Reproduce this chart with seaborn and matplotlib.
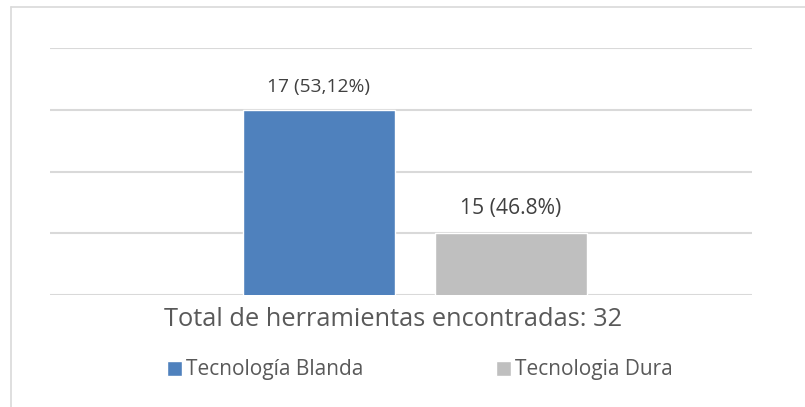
import pandas as pd
import matplotlib
matplotlib.use("Agg")
import matplotlib.pyplot as plt
import seaborn as sns
from matplotlib.lines import Line2D

# Data
category = "Total de herramientas encontradas: 32"
series = ["Tecnología Blanda", "Tecnologia Dura"]
counts = [17, 15]
bar_texts = ["17 (53,12%)", "15 (46.8%)"]
colors = ["#4F81BD", "#BFBFBF"]

df = pd.DataFrame({"categoria": [category] * len(series), "tipo": series, "total": counts})

sns.set_style("white")
plt.rcParams["font.family"] = ["Open Sans", "DejaVu Sans"]

fig = plt.figure(figsize=(8.05, 4.07), dpi=100)
W, H = 805, 407
ax = fig.add_axes([50 / W, 1 - 295 / H, (752 - 50) / W, (295 - 48) / H])

sns.barplot(data=df, x="categoria", y="total", hue="tipo", palette=colors,
            width=0.8, gap=0.21, ax=ax, saturation=1)

# truncated value axis like the original (14 to 18, one grid line per unit)
ax.set_ylim(14, 18)
ax.set_yticks([14, 15, 16, 17, 18])
ax.yaxis.grid(True, color="#D9D9D9", linewidth=1.5)
ax.set_axisbelow(True)
ax.tick_params(left=False, bottom=False, labelleft=False, labelbottom=False)
for s in ax.spines.values():
    s.set_visible(False)
ax.set_ylabel("")

# x range chosen so the bar pair sits where it does in the picture
ax.set_xlim(-0.76, 0.7025)

for cont, txt, fs in zip(ax.containers, bar_texts, [13.8, 15.2]):
    ax.bar_label(cont, labels=[txt], padding=10, fontsize=fs, color="#404040")

ax.set_xlabel(category, fontsize=18.3, color="#595959")
ax.xaxis.set_label_coords((393 - 50) / (752 - 50), -0.05, transform=ax.transAxes)
ax.xaxis.label.set_va("top")

sns.move_legend(ax, "center", bbox_to_anchor=(420 / W, 1 - 370 / H),
                bbox_transform=fig.transFigure, ncol=2, frameon=False, title=None,
                fontsize=15, handlelength=0.7, handleheight=0.7,
                handletextpad=0.2, columnspacing=6.4)
for t in ax.get_legend().get_texts():
    t.set_color("#595959")

# thin chart-area frame (only the top and left edges are visible in the crop)
fig.add_artist(Line2D([11 / W, 11 / W], [0, 1 - 7 / H], color="#D9D9D9", lw=1.2,
                      transform=fig.transFigure))
fig.add_artist(Line2D([11 / W, 1], [1 - 7 / H, 1 - 7 / H], color="#D9D9D9", lw=1.2,
                      transform=fig.transFigure))

fig.savefig("out.png", dpi=100)
